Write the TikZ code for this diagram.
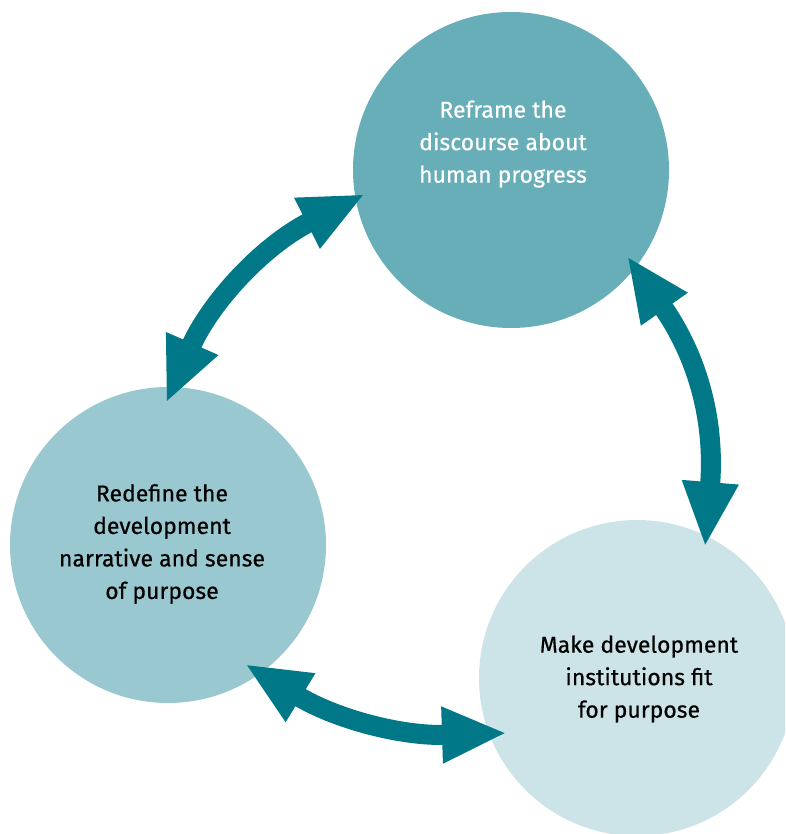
\documentclass[tikz,border=0pt]{standalone}
\usepackage{fontspec}
\setmainfont{Fira Sans}
\newfontfamily\labelfont{Fira Sans}[FakeBold=0.5]
\usetikzlibrary{arrows.meta}
\definecolor{topc}{HTML}{67AEB9}
\definecolor{leftc}{HTML}{9AC8D0}
\definecolor{botc}{HTML}{CCE3E7}
\definecolor{arrc}{HTML}{007887}
\tikzset{
  bubble/.style={circle, minimum size=316pt, inner sep=0pt, draw=none},
  label/.style={align=center, font=\labelfont\fontsize{23}{32.5}\selectfont, inner sep=0pt},
  link/.style={draw=arrc, line width=20pt,
    {Triangle[length=65pt,width=52pt]}-{Triangle[length=65pt,width=52pt]}},
}
\begin{document}
\begin{tikzpicture}[x=1pt,y=-1pt]
\clip (0,0) rectangle (785,834);
\useasboundingbox (0,0) rectangle (785,834);
\node[bubble, fill=topc] (top) at (511,170) {};
\node[bubble, fill=leftc] (left) at (168,545) {};
\node[bubble, fill=botc] (bot) at (637,678) {};
\node[label, text=white] (ttop) at (503,144) {Reframe the\\discourse about\\human progress};
\node[label, text=black] (tleft) at (162,544) {Redefine the\\development\\narrative and sense\\of purpose};
\node[label, text=black] (tbot) at (639,679) {Make development\\institutions fit\\for purpose};
\coordinate (a1) at (166,403);
\coordinate (b1) at (365,194);
\coordinate (a2) at (627,256);
\coordinate (b2) at (705,547);
\coordinate (a3) at (245,664);
\coordinate (b3) at (507,733);
\draw[link] (a1) .. controls (210,303) and (262,246) .. (b1);
\draw[link] (a2) .. controls (700,360) and (715,425) .. (b2);
\draw[link] (a3) .. controls (335.6,719) and (401,736.3) .. (b3);
\end{tikzpicture}
\end{document}
